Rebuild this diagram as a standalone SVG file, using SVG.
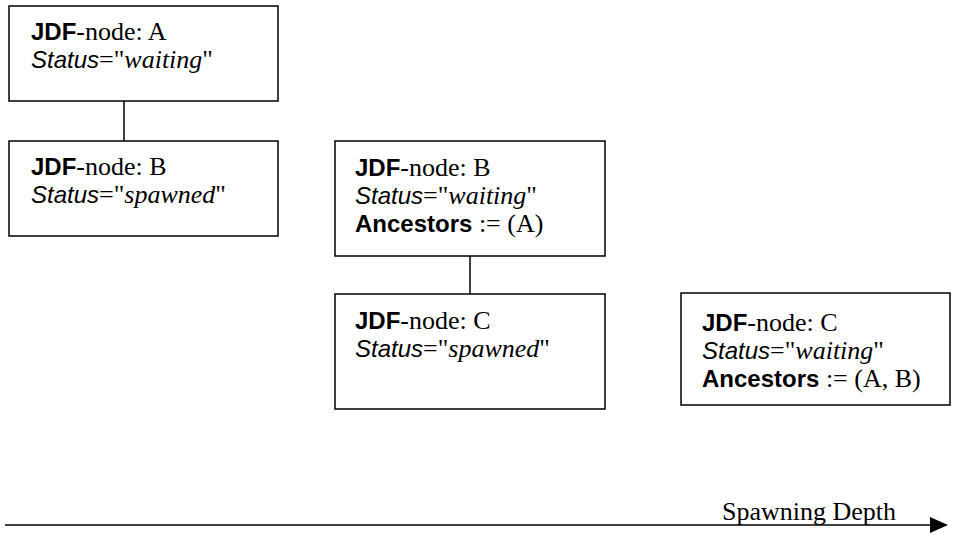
<svg xmlns="http://www.w3.org/2000/svg" width="961" height="537" viewBox="0 0 961 537">
<style>
.box{fill:#fff;stroke:#000;stroke-width:1.5}
.t{font-family:"Liberation Serif",serif;font-size:26px;fill:#000}
.a{font-family:"Liberation Sans",sans-serif;font-size:24px}
.b{font-weight:bold}
.i{font-style:italic}
.conn{stroke:#000;stroke-width:1.5;fill:none}
</style>
<defs>
<marker id="arr" markerWidth="18" markerHeight="16" refX="0" refY="8" orient="auto" markerUnits="userSpaceOnUse">
<path d="M0,0 L18,8 L0,16 Z" fill="#000"/>
</marker>
</defs>
<rect width="961" height="537" fill="#fff"/>
<g id="connectors">
<line class="conn" x1="124" y1="101" x2="124" y2="141"/>
<line class="conn" x1="470" y1="256" x2="470" y2="294"/>
<line class="conn" x1="5" y1="525" x2="930" y2="525" stroke-width="2" marker-end="url(#arr)"/>
</g>
<g id="nodeA">
<rect class="box" x="9" y="6" width="269" height="95"/>
<text class="t" x="31" y="40"><tspan class="a b">JDF</tspan>-node: A</text>
<text class="t" x="31" y="68"><tspan class="a i">Status</tspan>="<tspan class="i">waiting</tspan>"</text>
</g>
<g id="nodeB1">
<rect class="box" x="9" y="141" width="269" height="95"/>
<text class="t" x="31" y="175"><tspan class="a b">JDF</tspan>-node: B</text>
<text class="t" x="31" y="203"><tspan class="a i">Status</tspan>="<tspan class="i">spawned</tspan>"</text>
</g>
<g id="nodeB2">
<rect class="box" x="335" y="141" width="270" height="115"/>
<text class="t" x="355" y="176"><tspan class="a b">JDF</tspan>-node: B</text>
<text class="t" x="355" y="204"><tspan class="a i">Status</tspan>="<tspan class="i">waiting</tspan>"</text>
<text class="t" x="355" y="232"><tspan class="a b">Ancestors</tspan> := (A)</text>
</g>
<g id="nodeC1">
<rect class="box" x="335" y="294" width="270" height="115"/>
<text class="t" x="355" y="329"><tspan class="a b">JDF</tspan>-node: C</text>
<text class="t" x="355" y="357"><tspan class="a i">Status</tspan>="<tspan class="i">spawned</tspan>"</text>
</g>
<g id="nodeC2">
<rect class="box" x="681" y="293" width="269" height="112"/>
<text class="t" x="702" y="331"><tspan class="a b">JDF</tspan>-node: C</text>
<text class="t" x="702" y="359"><tspan class="a i">Status</tspan>="<tspan class="i">waiting</tspan>"</text>
<text class="t" x="702" y="387"><tspan class="a b">Ancestors</tspan> := (A, B)</text>
</g>
<text id="axisLabel" class="t" x="722" y="520">Spawning Depth</text>
</svg>
